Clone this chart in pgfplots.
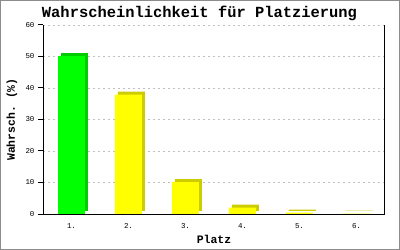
\documentclass[border=0pt]{standalone}
\usepackage{pgfplots}
\pgfplotsset{compat=1.18}
\usepackage{fontspec}
\setmonofont{Liberation Mono}
\definecolor{fgreen}{HTML}{00FF00}
\definecolor{sgreen}{HTML}{00CC00}
\definecolor{fyellow}{HTML}{FFFF00}
\definecolor{syellow}{HTML}{CCCC00}
\begin{document}
\begin{tikzpicture}[x=1bp,y=1bp]
\useasboundingbox (0,0) rectangle (400,250);
\fill[white] (0,0) rectangle (400,250);
\draw[black!45, line width=1.5bp] (0.75,0.75) rectangle (399.25,249.25);
\begin{axis}[
  at={(43bp,36bp)}, anchor=south west,
  scale only axis, width=342bp, height=189bp,
  xmin=0, xmax=6, ymin=0, ymax=60,
  axis lines=left, axis line style={-, black, line width=1bp},
  clip=false,
  xtick={0.5,1.5,2.5,3.5,4.5,5.5},
  xticklabels={1.,2.,3.,4.,5.,6.},
  major x tick style={draw=none},
  ytick={0,10,...,60},
  tick align=outside, major tick length=5bp,
  major y tick style={black, line width=1bp},
  ymajorgrids, grid style={black!25, dash pattern=on 2bp off 3bp, line width=0.8bp},
  /pgf/number format/assume math mode=true,
  tick label style={font=\ttfamily\fontsize{7.5}{8}\selectfont},
  xticklabel style={yshift=-1bp},
  title={Wahrscheinlichkeit für Platzierung},
  every axis title shift=0pt,
  title style={at={(0.5,1)}, anchor=center, yshift=12bp, xshift=-14.5bp, font=\ttfamily\bfseries\fontsize{15.5}{16}\selectfont},
  xlabel={Platz},
  xlabel style={at={(0.5,0)}, anchor=center, yshift=-25bp, font=\ttfamily\bfseries\fontsize{11.5}{12}\selectfont},
  ylabel={Wahrsch. (\%)},
  ylabel style={at={(0,0.5)}, anchor=center, rotate=0, yshift=31bp, font=\ttfamily\bfseries\fontsize{11.5}{12}\selectfont},
  ybar, bar width=27bp,
]
\addplot[draw=none, fill=sgreen, bar shift=0pt, xshift=3bp, yshift=3bp] coordinates {(0.5,50.0)};
\addplot[draw=none, fill=syellow, bar shift=0pt, xshift=3bp, yshift=3bp] coordinates {(1.5,37.9) (2.5,10.1) (3.5,2.0) (4.5,0.4) (5.5,0.1)};
\addplot[draw=none, fill=fgreen, bar shift=0pt] coordinates {(0.5,50.0)};
\addplot[draw=none, fill=fyellow, bar shift=0pt] coordinates {(1.5,37.9) (2.5,10.1) (3.5,2.0) (4.5,0.4) (5.5,0.1)};
\draw[black, line width=1bp] (rel axis cs:1,0) -- (rel axis cs:1,1);
\draw[black, line width=1bp] (rel axis cs:0,0) -- (rel axis cs:1,0);
\end{axis}
\end{tikzpicture}
\end{document}
